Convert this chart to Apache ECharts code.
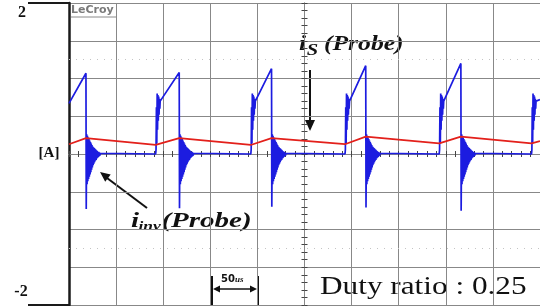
<!DOCTYPE html>
<html lang="en" style="height: 100%">
<head>
  <meta charset="utf-8">
</head>
<body style="height: 100%; margin: 0; background-color: #fff">
  <div id="container" style="width: 540px; height: 306px"></div>
  <script src="https://cdn.jsdelivr.net/npm/echarts@6.0.0/dist/echarts.min.js"></script>
  <script>
    // time in us (0 = centre of the screen), current in A (0.5 A/div)
    var riseTimes = [-158, -57, 43, 143, 241];
    var dropTimes = [-232, -133, -35, 65, 166];
    var peakValues = [1.07, 1.08, 1.13, 1.17, 1.20];
    var spikeValues = [-0.73, -0.72, -0.70, -0.71, -0.75];
    var rampStart = [0.68, 0.68, 0.69, 0.70, 0.70];
    var blueLeft = 0.67, blueRight = 0.72;
    // ringing, one value every 0.4 us
    var riseRing = [0.06, 0.62, 0.14, 0.80, 0.32, 0.78, 0.44, 0.76, 0.52, 0.73, 0.60, 0.70];
    var dropRing = [0.26, -0.40, 0.24, -0.36, 0.22, -0.33, 0.20, -0.30, 0.18, -0.27, 0.16, -0.24,
      0.14, -0.21, 0.12, -0.18, 0.10, -0.15, 0.09, -0.13, 0.08, -0.11, 0.07, -0.09, 0.06, -0.08,
      0.05, -0.06, 0.04, -0.05, 0.03, -0.04, 0.03, -0.03, 0.02, -0.02, 0.01, -0.01];
    var redRise = [0.12, 0.12, 0.13, 0.14, 0.14];
    var redPeak = [0.21, 0.21, 0.21, 0.23, 0.23];
    var redLeft = 0.13, redRight = 0.17;

    var blue = [[-250, blueLeft]];
    var red = [[-250, redLeft]];
    dropTimes.forEach(function (td, k) {
      blue.push([td, peakValues[k]]);
      blue.push([td + 0.3, spikeValues[k]]);
      dropRing.forEach(function (v, i) { blue.push([td + 0.4 * (i + 2), v]); });
      blue.push([td + 16.5, 0]);
      var tr = riseTimes[k];
      blue.push([tr, 0]);
      riseRing.forEach(function (v, i) { blue.push([tr + 0.4 * (i + 1), v]); });
      blue.push([tr + 5.2, rampStart[k]]);
      red.push([td, redPeak[k]]);
      red.push([tr, redRise[k]]);
    });
    blue.push([250, blueRight]);
    red.push([250, redRight]);

    var gridColor = '#888';
    var chart = echarts.init(document.getElementById('container'), null, { renderer: 'canvas' });

    function centreX(pos) {
      return {
        type: 'value', min: -250, max: 250, interval: 50, position: pos,
        axisLine: { onZero: true, lineStyle: { color: gridColor, width: 1 } },
        axisTick: { show: true, length: 3, lineStyle: { color: '#444' } },
        minorTick: { show: true, splitNumber: 5, length: 3, lineStyle: { color: '#444' } },
        axisLabel: { show: false },
        splitLine: { show: pos === 'bottom', lineStyle: { color: gridColor, width: 1 } }
      };
    }
    function centreY(pos) {
      return {
        type: 'value', min: -2, max: 2, interval: 0.5, position: pos,
        axisLine: { onZero: true, lineStyle: { color: gridColor, width: 1 } },
        axisTick: { show: true, length: 3, lineStyle: { color: '#444' } },
        minorTick: { show: true, splitNumber: 5, length: 3, lineStyle: { color: '#444' } },
        axisLabel: { show: false },
        splitLine: { show: false }
      };
    }

    var serifBI = 'bold italic 20px "Liberation Serif"';

    var option = {
      animation: false,
      backgroundColor: '#fff',
      grid: { left: 69, right: -2, top: 3, bottom: 1 },
      xAxis: [centreX('bottom'), centreX('top')],
      yAxis: [
        {
          type: 'value', min: -2, max: 2, interval: 0.5, position: 'left',
          axisLine: { show: true, onZero: false, lineStyle: { color: '#1a1a1a', width: 2.5 } },
          axisTick: { show: false },
          axisLabel: { show: false },
          splitLine: { show: true, lineStyle: { color: gridColor, width: 1 } }
        },
        centreY('left'),
        centreY('right')
      ],
      series: [
        {
          name: 'iinv', type: 'line', data: blue, showSymbol: false, sampling: 'none',
          lineStyle: { color: '#1c1ce0', width: 1.7 }, z: 3,
          markLine: {
            silent: true, symbol: 'none', label: { show: false },
            lineStyle: { color: '#c4c4c4', type: [1, 6], width: 1 },
            data: [{ yAxis: 1.25 }, { yAxis: -1.25 }]
          }
        },
        {
          name: 'is', type: 'line', data: red, showSymbol: false,
          lineStyle: { color: '#e3201b', width: 1.7 }, z: 4
        }
      ],
      graphic: [
        // axis stubs and scale labels
        { type: 'line', shape: { x1: 28, y1: 3, x2: 70, y2: 3 }, style: { stroke: '#1a1a1a', lineWidth: 2 } },
        { type: 'line', shape: { x1: 28, y1: 305, x2: 70, y2: 305 }, style: { stroke: '#1a1a1a', lineWidth: 2 } },
        { type: 'text', x: 22, y: 13, style: { text: '2', font: 'bold 16px "Liberation Serif"', fill: '#111', align: 'center', verticalAlign: 'middle' } },
        { type: 'text', x: 21, y: 292, style: { text: '-2', font: 'bold 16px "Liberation Serif"', fill: '#111', align: 'center', verticalAlign: 'middle' } },
        { type: 'text', x: 49, y: 153, style: { text: '[A]', font: 'bold 15px "Liberation Serif"', fill: '#111', align: 'center', verticalAlign: 'middle' } },
        // LeCroy badge
        { type: 'text', x: 71, y: 10, style: { text: 'LeCroy', font: 'bold 11px "DejaVu Sans"', fill: '#7a7a7a', align: 'left', verticalAlign: 'middle' } },
        { type: 'line', shape: { x1: 71, y1: 17, x2: 116, y2: 17 }, style: { stroke: '#8a8a8a', lineWidth: 1 } },
        // i_S label and arrow
        {
          type: 'group', x: 299, y: 45, scaleX: 1.28,
          children: [
            { type: 'text', x: 0, y: 0, style: { text: 'i', font: serifBI, fill: '#111', verticalAlign: 'middle' } },
            { type: 'text', x: 6, y: 6, style: { text: 'S', font: 'bold italic 16px "Liberation Serif"', fill: '#111', verticalAlign: 'middle' } },
            { type: 'text', x: 19.5, y: 0, style: { text: '(Probe)', font: serifBI, fill: '#111', verticalAlign: 'middle' } }
          ]
        },
        { type: 'line', shape: { x1: 310, y1: 70, x2: 310, y2: 121 }, style: { stroke: '#111', lineWidth: 2 } },
        { type: 'polygon', shape: { points: [[305, 120], [315, 120], [310, 131]] }, style: { fill: '#111' } },
        // i_inv label and arrow
        {
          type: 'group', x: 131, y: 222, scaleX: 1.45,
          children: [
            { type: 'text', x: 0, y: 0, style: { text: 'i', font: serifBI, fill: '#111', verticalAlign: 'middle' } },
            { type: 'text', x: 5.2, y: 5, style: { text: 'inv', font: 'bold italic 12px "Liberation Serif"', fill: '#111', verticalAlign: 'middle' } },
            { type: 'text', x: 21, y: 0, style: { text: '(Probe)', font: serifBI, fill: '#111', verticalAlign: 'middle' } }
          ]
        },
        { type: 'line', shape: { x1: 147, y1: 208, x2: 107, y2: 178 }, style: { stroke: '#111', lineWidth: 2 } },
        { type: 'polygon', shape: { points: [[100, 172], [110.7, 174.5], [105.2, 181.7]] }, style: { fill: '#111' } },
        // 50 us scale bar
        { type: 'line', shape: { x1: 212, y1: 276, x2: 212, y2: 306 }, style: { stroke: '#111', lineWidth: 2 } },
        { type: 'line', shape: { x1: 258, y1: 276, x2: 258, y2: 306 }, style: { stroke: '#111', lineWidth: 2 } },
        { type: 'line', shape: { x1: 216, y1: 289, x2: 254, y2: 289 }, style: { stroke: '#111', lineWidth: 1.3 } },
        { type: 'polygon', shape: { points: [[213, 289], [220, 285.5], [220, 292.5]] }, style: { fill: '#111' } },
        { type: 'polygon', shape: { points: [[257, 289], [250, 285.5], [250, 292.5]] }, style: { fill: '#111' } },
        { type: 'text', x: 221, y: 279, style: { text: '50', font: 'bold 10px "DejaVu Sans"', fill: '#111', verticalAlign: 'middle' } },
        { type: 'text', x: 235, y: 280, style: { text: 'us', font: 'bold italic 9px "Liberation Serif"', fill: '#111', verticalAlign: 'middle' } },
        // duty ratio note
        {
          type: 'text', x: 320, y: 287, scaleX: 1.25,
          style: { text: 'Duty ratio : 0.25', font: '25px "Liberation Serif"', fill: '#111', verticalAlign: 'middle' }
        }
      ]
    };

    chart.setOption(option);
    window.addEventListener('resize', chart.resize);
  </script>
</body>
</html>
